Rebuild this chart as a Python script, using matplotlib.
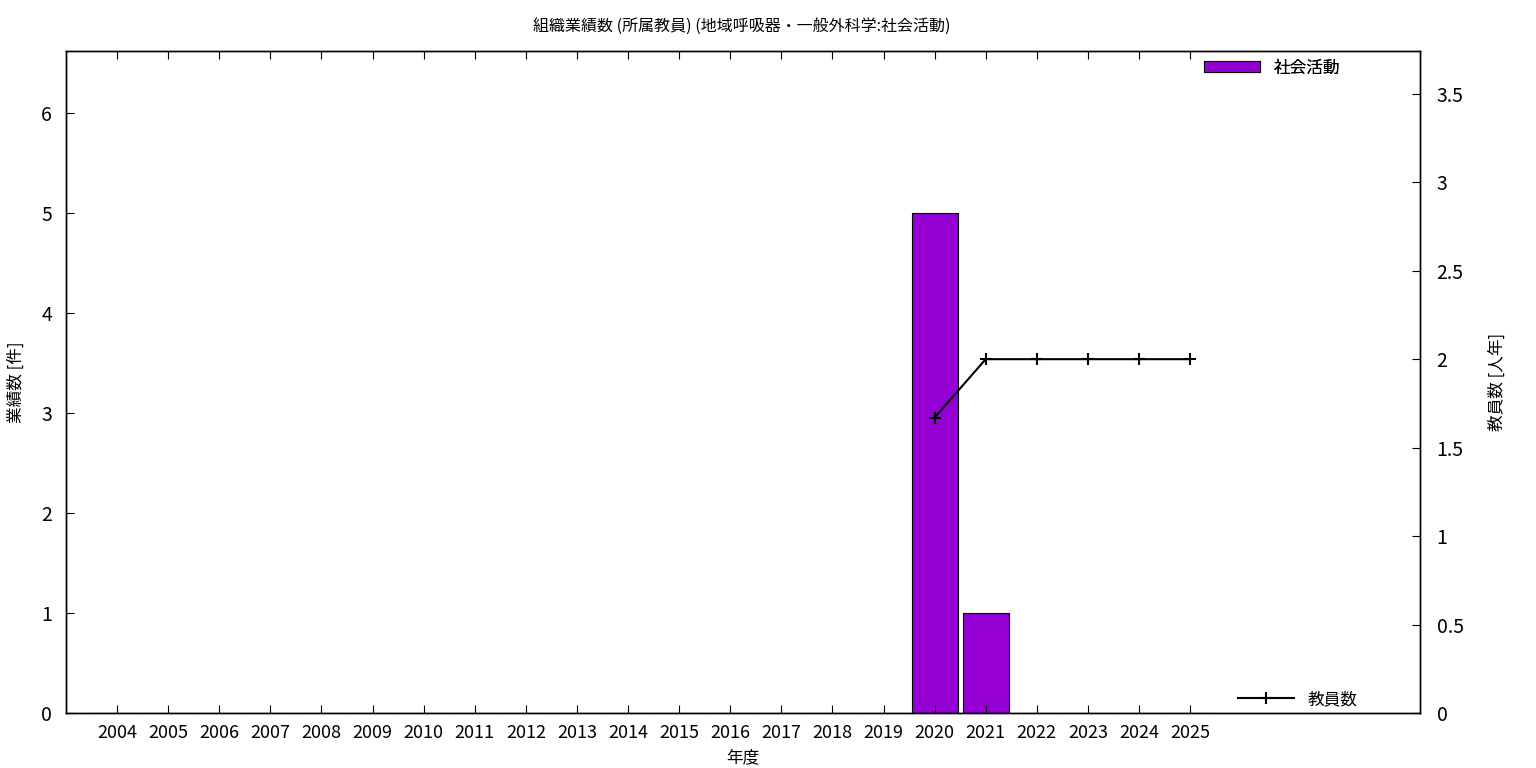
import matplotlib
matplotlib.use("Agg")
import matplotlib.pyplot as plt

plt.rcParams['font.family'] = ['Noto Sans CJK JP', 'DejaVu Sans']

years = list(range(2004, 2026))
activity = [0] * 16 + [5, 1, 0, 0, 0, 0]
staff_years = [2020, 2021, 2022, 2023, 2024, 2025]
staff = [1.67, 2, 2, 2, 2, 2]

title = "組織業績数 (所属教員) (地域呼吸器・一般外科学:社会活動)"
bar_color = "#9400d3"

fig = plt.figure(figsize=(15.36, 7.68), dpi=100)
ax = fig.add_axes([66 / 1536, 1 - 713 / 768, (1420 - 66) / 1536, (713 - 51) / 768])
ax2 = ax.twinx()

bars = ax.bar(years, activity, width=0.9, color=bar_color, edgecolor="black",
              linewidth=0.8, label="社会活動")
line, = ax2.plot(staff_years, staff, color="black", linewidth=1.5, marker="+",
                 markersize=8, markeredgewidth=1.5, label="教員数")

ax.set_xlim(2003, 2029.5)
ax.set_ylim(0, 6.62)
ax2.set_ylim(0, 3.742)
ax.set_xticks(years)
ax.set_xticklabels([str(y) for y in years], fontsize=13)
ax.set_yticks(range(0, 7))
ax2.set_yticks([0, 0.5, 1, 1.5, 2, 2.5, 3, 3.5])
ax2.set_yticklabels(["0", "0.5", "1", "1.5", "2", "2.5", "3", "3.5"])
ax.tick_params(axis="y", labelsize=14, direction="in", length=6, pad=10)
ax.tick_params(axis="x", direction="in", length=6, top=True, pad=8)
ax2.tick_params(axis="y", labelsize=14, direction="in", length=6, pad=12)

ax.set_xlabel("年度", fontsize=12, labelpad=5)
ax.set_ylabel("業績数 [件]", fontsize=12, labelpad=12)
ax2.set_ylabel("教員数 [人年]", fontsize=12, labelpad=18, rotation=90)
ax2.yaxis.set_label_position("right")
fig.text(742 / 1536, 1 - 27 / 768, title, ha="center", va="center", fontsize=11.5)

leg1 = ax.legend(handles=[bars], loc="upper right", bbox_to_anchor=(0.952, 1.01),
                 frameon=False, fontsize=12, handlelength=3.4, handleheight=0.55)
ax.add_artist(leg1)
ax2.legend(handles=[line], loc="lower right", bbox_to_anchor=(0.965, -0.015),
           frameon=False, fontsize=12, handlelength=3.4)

for a in (ax, ax2):
    for s in a.spines.values():
        s.set_linewidth(1.0)

fig.savefig("out.png", dpi=100)
